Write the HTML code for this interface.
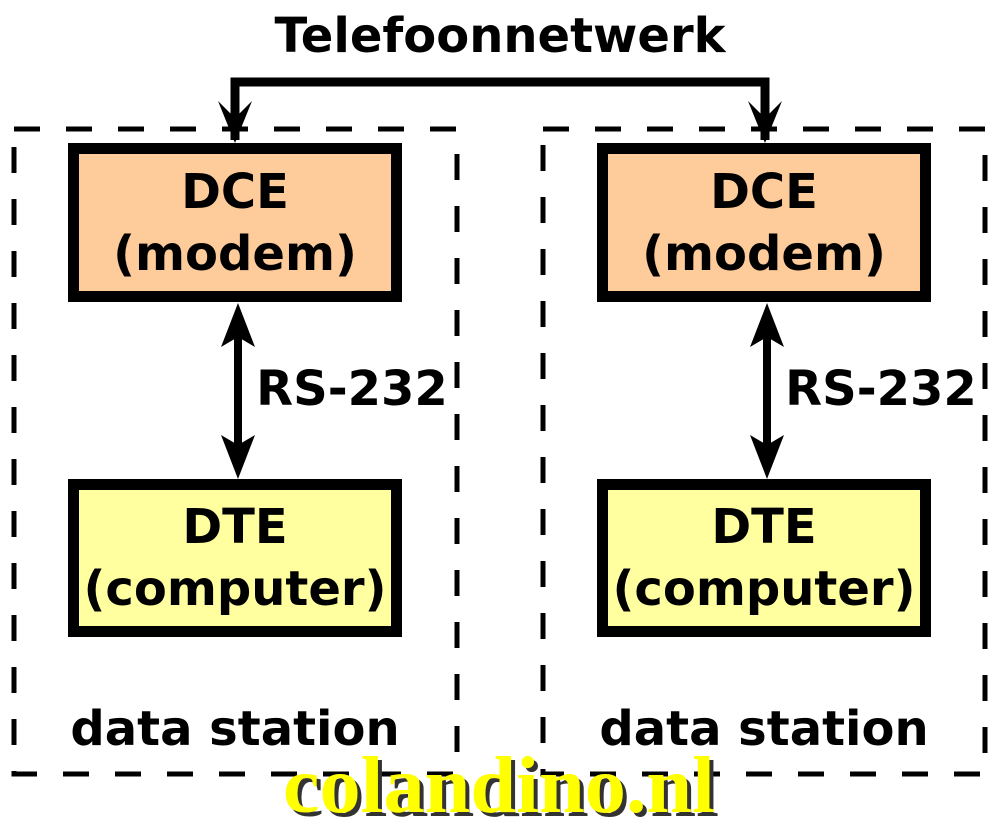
<!DOCTYPE html>
<html><head><meta charset="utf-8"><style>
html,body{margin:0;padding:0;background:#fff;}
svg{display:block;}
</style></head><body>
<svg width="1001" height="819" viewBox="0 0 1001 819" xmlns="http://www.w3.org/2000/svg">
<g fill="none" stroke="#000" stroke-width="5" stroke-dasharray="26 26">
<rect x="14" y="129" width="443" height="645"/>
<rect x="543" y="129" width="442" height="645"/>
</g>
<!-- top connector -->
<path d="M235,140 V82 H765 V140" fill="none" stroke="#000" stroke-width="9"/>
<path d="M235,143 L218,101 L235,118 L252,101 Z" fill="#000"/>
<path d="M765,143 L748,101 L765,118 L782,101 Z" fill="#000"/>
<!-- boxes -->
<g stroke="#000" stroke-width="11">
<rect x="73.5" y="148.5" width="323" height="148" fill="#fecb9a"/>
<rect x="73.5" y="484.5" width="323" height="147" fill="#ffff9f"/>
<rect x="602.5" y="148.5" width="323" height="148" fill="#fecb9a"/>
<rect x="602.5" y="484.5" width="323" height="147" fill="#ffff9f"/>
</g>
<!-- vertical double arrows -->
<g stroke="#000" stroke-width="8">
<line x1="238" y1="320" x2="238" y2="460"/>
<line x1="767" y1="320" x2="767" y2="460"/>
</g>
<g fill="#000">
<path d="M238,303 L255,347 L238,337 L221,347 Z"/>
<path d="M238,479 L255,435 L238,445 L221,435 Z"/>
<path d="M767,303 L784,347 L767,337 L750,347 Z"/>
<path d="M767,479 L784,435 L767,445 L750,435 Z"/>
</g>
<g font-family="'DejaVu Sans','Liberation Sans',sans-serif" font-weight="bold" fill="#000" text-anchor="middle" font-size="48">
<text x="500" y="52">Telefoonnetwerk</text>
<text x="235" y="208">DCE</text>
<text x="235" y="270">(modem)</text>
<text x="764" y="208">DCE</text>
<text x="764" y="270">(modem)</text>
<text x="235" y="543">DTE</text>
<text x="235" y="605">(computer)</text>
<text x="764" y="543">DTE</text>
<text x="764" y="605">(computer)</text>
<text x="235" y="745">data station</text>
<text x="764" y="745">data station</text>
<text x="352" y="405">RS-232</text>
<text x="881" y="405">RS-232</text>
</g>
<g font-family="'Liberation Serif','DejaVu Serif',serif" font-weight="bold" font-size="80" text-anchor="middle">
<text x="503" y="816" fill="#333" textLength="432" lengthAdjust="spacingAndGlyphs">colandino.nl</text>
<text x="499" y="812" fill="#ffff00" textLength="432" lengthAdjust="spacingAndGlyphs">colandino.nl</text>
</g>
</svg>
</body></html>
